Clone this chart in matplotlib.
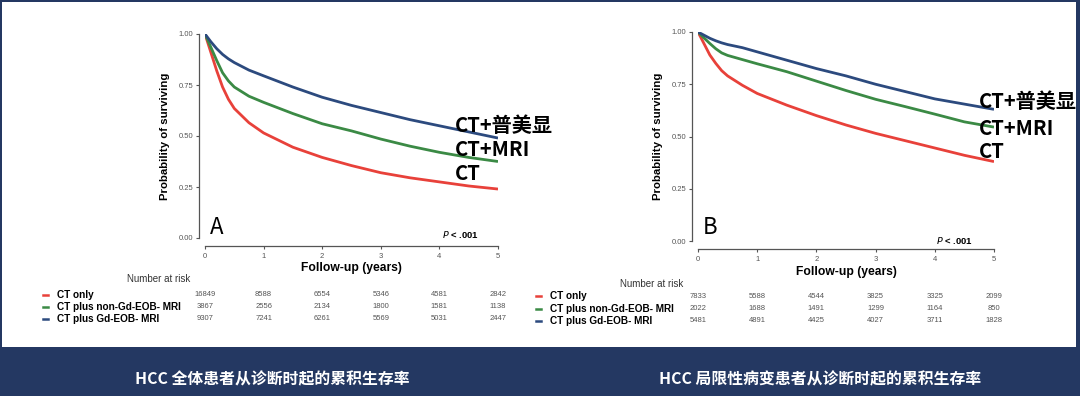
import matplotlib
matplotlib.use("Agg")
import matplotlib.pyplot as plt
from matplotlib.patches import Rectangle
from matplotlib.lines import Line2D
from matplotlib.transforms import blended_transform_factory

# --- data -------------------------------------------------------------
years = [0, 0.1, 0.2, 0.3, 0.4, 0.5, 0.75, 1, 1.5, 2, 2.5, 3, 3.5, 4, 4.5, 5]

# panel A: all HCC patients
a_ct = [1, 0.91, 0.82, 0.74, 0.68, 0.635, 0.565, 0.515, 0.445, 0.395, 0.355,
        0.32, 0.295, 0.275, 0.255, 0.24]
a_mri = [1, 0.935, 0.87, 0.81, 0.77, 0.74, 0.695, 0.665, 0.61, 0.56, 0.525,
         0.485, 0.45, 0.42, 0.395, 0.375]
a_gd = [1, 0.962, 0.928, 0.90, 0.878, 0.86, 0.823, 0.795, 0.74, 0.69, 0.65,
        0.615, 0.58, 0.55, 0.52, 0.49]

# panel B: localized HCC
b_ct = [1, 0.945, 0.89, 0.85, 0.815, 0.79, 0.745, 0.706, 0.65, 0.60, 0.555,
        0.515, 0.48, 0.445, 0.41, 0.38]
b_mri = [1, 0.972, 0.945, 0.92, 0.90, 0.888, 0.868, 0.848, 0.81, 0.765, 0.72,
         0.678, 0.643, 0.607, 0.57, 0.545]
b_gd = [1, 0.985, 0.97, 0.958, 0.948, 0.94, 0.925, 0.905, 0.865, 0.825, 0.79,
        0.75, 0.715, 0.68, 0.655, 0.63]

risk_years = [0, 1, 2, 3, 4, 5]
a_risk = [[16849, 8588, 6554, 5346, 4581, 2842],
          [3867, 2556, 2134, 1800, 1581, 1138],
          [9307, 7241, 6261, 5569, 5031, 2447]]
b_risk = [[7833, 5588, 4544, 3825, 3325, 2099],
          [2022, 1688, 1491, 1299, 1164, 850],
          [5481, 4891, 4425, 4027, 3711, 1828]]

group_names = ["CT only", "CT plus non-Gd-EOB- MRI", "CT plus Gd-EOB- MRI"]
curve_labels = ["CT+普美显", "CT+MRI", "CT"]
y_ticks = [0, 0.25, 0.5, 0.75, 1.0]
captions = ["HCC 全体患者从诊断时起的累积生存率", "HCC 局限性病变患者从诊断时起的累积生存率"]

colors = ["#e8413a", "#3b8a45", "#2c4a7e"]
navy = "#243862"
CJK = ["Noto Sans CJK SC", "DejaVu Sans"]
plt.rcParams["font.family"] = ["Liberation Sans", "DejaVu Sans"]

W, H = 1080, 396
fig = plt.figure(figsize=(W / 100, H / 100), dpi=100, facecolor=navy)


def fx(px):
    return px / W


def fy(py):
    return 1 - py / H


# white card behind everything
fig.patches.append(Rectangle((fx(1.5), fy(347)), fx(1076) - fx(1.5), fy(2) - fy(347),
                             transform=fig.transFigure, facecolor="white",
                             edgecolor="none", zorder=-10))


def panel(x0, x5, y1, y0, curves, risk, letter, xlabel_y, p_xy,
          nar_xy, rows_y, leg_x, label_x, label_ys, cap_x, caption):
    ax = fig.add_axes([fx(x0), fy(y0), fx(x5) - fx(x0), fy(y1) - fy(y0)])
    ax.set_facecolor("none")
    for c, s in zip(colors, curves):
        ax.plot(years, s, color=c, lw=2.0, solid_capstyle="butt")
    ax.set_xlim(0, 5)
    ax.set_ylim(0, 1)
    for side in ["top", "right"]:
        ax.spines[side].set_visible(False)
    ax.spines["left"].set_position(("outward", 4.3))
    ax.spines["bottom"].set_position(("outward", 5.5))
    for side in ["left", "bottom"]:
        ax.spines[side].set_color("#555555")
        ax.spines[side].set_linewidth(0.9)
    ax.set_yticks(y_ticks)
    ax.set_yticklabels(["%.2f" % v for v in y_ticks])
    ax.set_xticks(risk_years)
    ax.tick_params(length=2.5, width=0.8, color="#555555", labelsize=5.5,
                   labelcolor="#555555")
    ax.tick_params(axis="x", pad=3)
    ax.tick_params(axis="y", pad=1.5)
    ax.set_ylabel("Probability of surviving", fontsize=8.2, fontweight="bold",
                  labelpad=6)
    fig.text(fx((x0 + x5) / 2), fy(xlabel_y), "Follow-up (years)", fontsize=8.7,
             fontweight="bold", ha="center", va="center")
    fig.text(fx(x0 + 5), fy(234), letter, fontsize=16, ha="left", va="baseline",
             family=CJK)
    fig.text(fx(p_xy[0]), fy(p_xy[1]), r"$\bf{\it{P}}$ < .001", fontsize=6.8,
             fontweight="bold", ha="left", va="center")

    tr = blended_transform_factory(ax.transData, fig.transFigure)
    fig.text(fx(nar_xy[0]), fy(nar_xy[1]), "Number at risk", fontsize=7,
             ha="right", va="center", color="#333333")
    for i, row in enumerate(risk):
        ry = fy(rows_y[i])
        fig.add_artist(Line2D([fx(leg_x - 14), fx(leg_x - 9)], [ry, ry],
                              transform=fig.transFigure, color=colors[i], lw=1.8))
        fig.text(fx(leg_x), ry, group_names[i], fontsize=7.2, fontweight="bold",
                 ha="left", va="center")
        for t, n in zip(risk_years, row):
            ax.text(t, ry, str(n), transform=tr, fontsize=5.5, color="#555555",
                    ha="center", va="center", clip_on=False)

    for lab, ly in zip(curve_labels, label_ys):
        fig.text(fx(label_x), fy(ly), lab, fontsize=14.5, ha="left", va="center",
                 family=CJK, fontweight="bold")

    fig.text(fx(cap_x), fy(379), caption, fontsize=11.4, fontweight="bold",
             color="white", ha="center", va="center", family=CJK)
    return ax


panel(205, 498, 34, 238, [a_ct, a_mri, a_gd], a_risk, "A",
      268, (442, 235), (190, 279), [295, 307, 319], 57, 455,
      [125, 150, 173], 272, captions[0])
panel(698, 994, 32, 241, [b_ct, b_mri, b_gd], b_risk, "B",
      272, (936, 240), (683, 284), [296, 308.5, 321], 550, 979,
      [102, 128, 152], 820, captions[1])

fig.savefig("out.png", dpi=100, facecolor=navy)
